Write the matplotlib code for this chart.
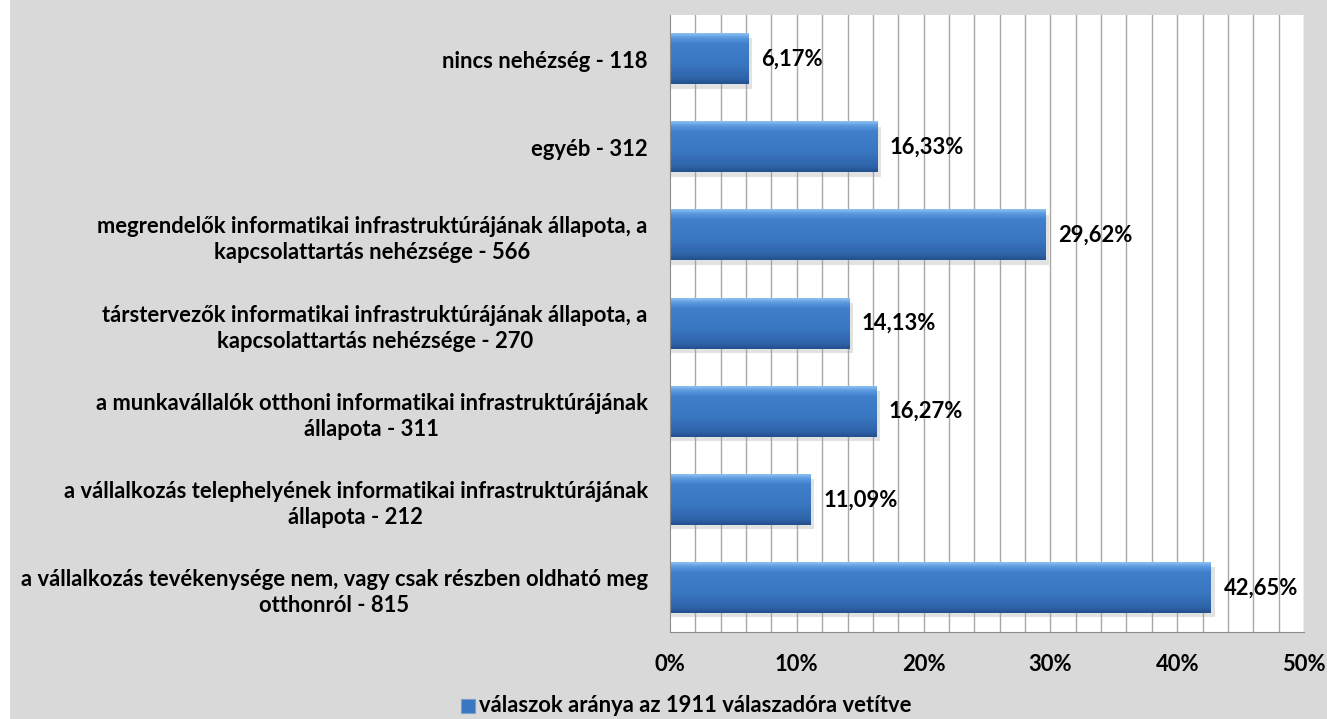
import matplotlib
matplotlib.use("Agg")
import matplotlib.pyplot as plt
import numpy as np
from matplotlib.colors import LinearSegmentedColormap
from matplotlib.patches import Rectangle

categories = [
    "nincs nehézség - 118",
    "egyéb - 312",
    "megrendelők informatikai infrastruktúrájának állapota, a\nkapcsolattartás nehézsége - 566",
    "társtervezők informatikai infrastruktúrájának állapota, a\nkapcsolattartás nehézsége - 270",
    "a munkavállalók otthoni informatikai infrastruktúrájának\nállapota - 311",
    "a vállalkozás telephelyének informatikai infrastruktúrájának\nállapota - 212",
    "a vállalkozás tevékenysége nem, vagy csak részben oldható meg\notthonról - 815",
]
values = [6.17, 16.33, 29.62, 14.13, 16.27, 11.09, 42.65]
value_labels = ["6,17%", "16,33%", "29,62%", "14,13%", "16,27%", "11,09%", "42,65%"]
x_ticks = [0, 10, 20, 30, 40, 50]
x_tick_labels = ["0%", "10%", "20%", "30%", "40%", "50%"]
legend_label = "válaszok aránya az 1911 válaszadóra vetítve"

plt.rcParams["font.family"] = ["Lato", "DejaVu Sans"]
plt.rcParams["font.weight"] = "bold"
fs = 15.8

bg = "#d9d9d9"
fig = plt.figure(figsize=(13.27, 7.19), dpi=100, facecolor=bg)
# thin white strip on the left edge of the screenshot
fig.patches.append(Rectangle((0, 0), 10 / 1327, 1, transform=fig.transFigure,
                             facecolor="white", lw=0))

ax = fig.add_axes([670 / 1327, 1 - 632 / 719, 634 / 1327, 617 / 719])
ax.set_facecolor("white")

ypos = np.arange(len(categories))
bar_h = 0.57

# vertical gridlines every 2%
for gx in np.arange(2, 51, 2):
    ax.axvline(gx, color="#a8a8a8", lw=1.0, zorder=1)

# bars with a vertical gradient (bevel look)
cmap = LinearSegmentedColormap.from_list(
    "bevel",
    [(0.0, "#8cc0f2"), (0.08, "#5c9be0"), (0.2, "#3f7fcc"), (0.6, "#3a77c2"),
     (0.9, "#2e63a8"), (1.0, "#24508c")],
)
gimg = np.linspace(0, 1, 64).reshape(-1, 1)
for y, v, lab in zip(ypos, values, value_labels):
    ax.add_patch(Rectangle((0, y - bar_h / 2 + 0.05), v + 0.3, bar_h,
                           facecolor="#a0a0a0", alpha=0.3, lw=0, zorder=2))
    ax.imshow(gimg, cmap=cmap, aspect="auto", interpolation="bilinear",
              extent=(0, v, y + bar_h / 2, y - bar_h / 2), zorder=3)
    ax.text(v + 1.0, y, lab, va="center", ha="left", fontsize=fs,
            fontweight="bold", color="black", zorder=4)

ax.set_xlim(0, 50)
ax.set_ylim(len(categories) - 0.5, -0.5)
ax.set_xticks(x_ticks)
ax.set_xticklabels(x_tick_labels, fontsize=fs, fontweight="bold")
ax.set_yticks(ypos)
ax.set_yticklabels(categories, fontsize=fs, fontweight="bold")
for lab in ax.get_yticklabels():
    lab.set_multialignment("center")
    lab.set_linespacing(1.3)
ax.tick_params(axis="y", length=0, pad=16)
ax.tick_params(axis="x", length=0, pad=16)

for side in ["top", "right"]:
    ax.spines[side].set_visible(False)
ax.spines["left"].set_color("#8c8c8c")
ax.spines["bottom"].set_color("#8c8c8c")
ax.spines["left"].set_zorder(5)

# legend
fig.patches.append(Rectangle((461 / 1327, 1 - 713 / 719), 14 / 1327, 14 / 719,
                             transform=fig.transFigure, facecolor="#3a77c2",
                             edgecolor="#7a9cc8", lw=0.8))
fig.text(479 / 1327, 1 - 706 / 719, legend_label, ha="left", va="center",
         fontsize=fs, fontweight="bold")

fig.savefig("out.png", dpi=100, facecolor=bg)
